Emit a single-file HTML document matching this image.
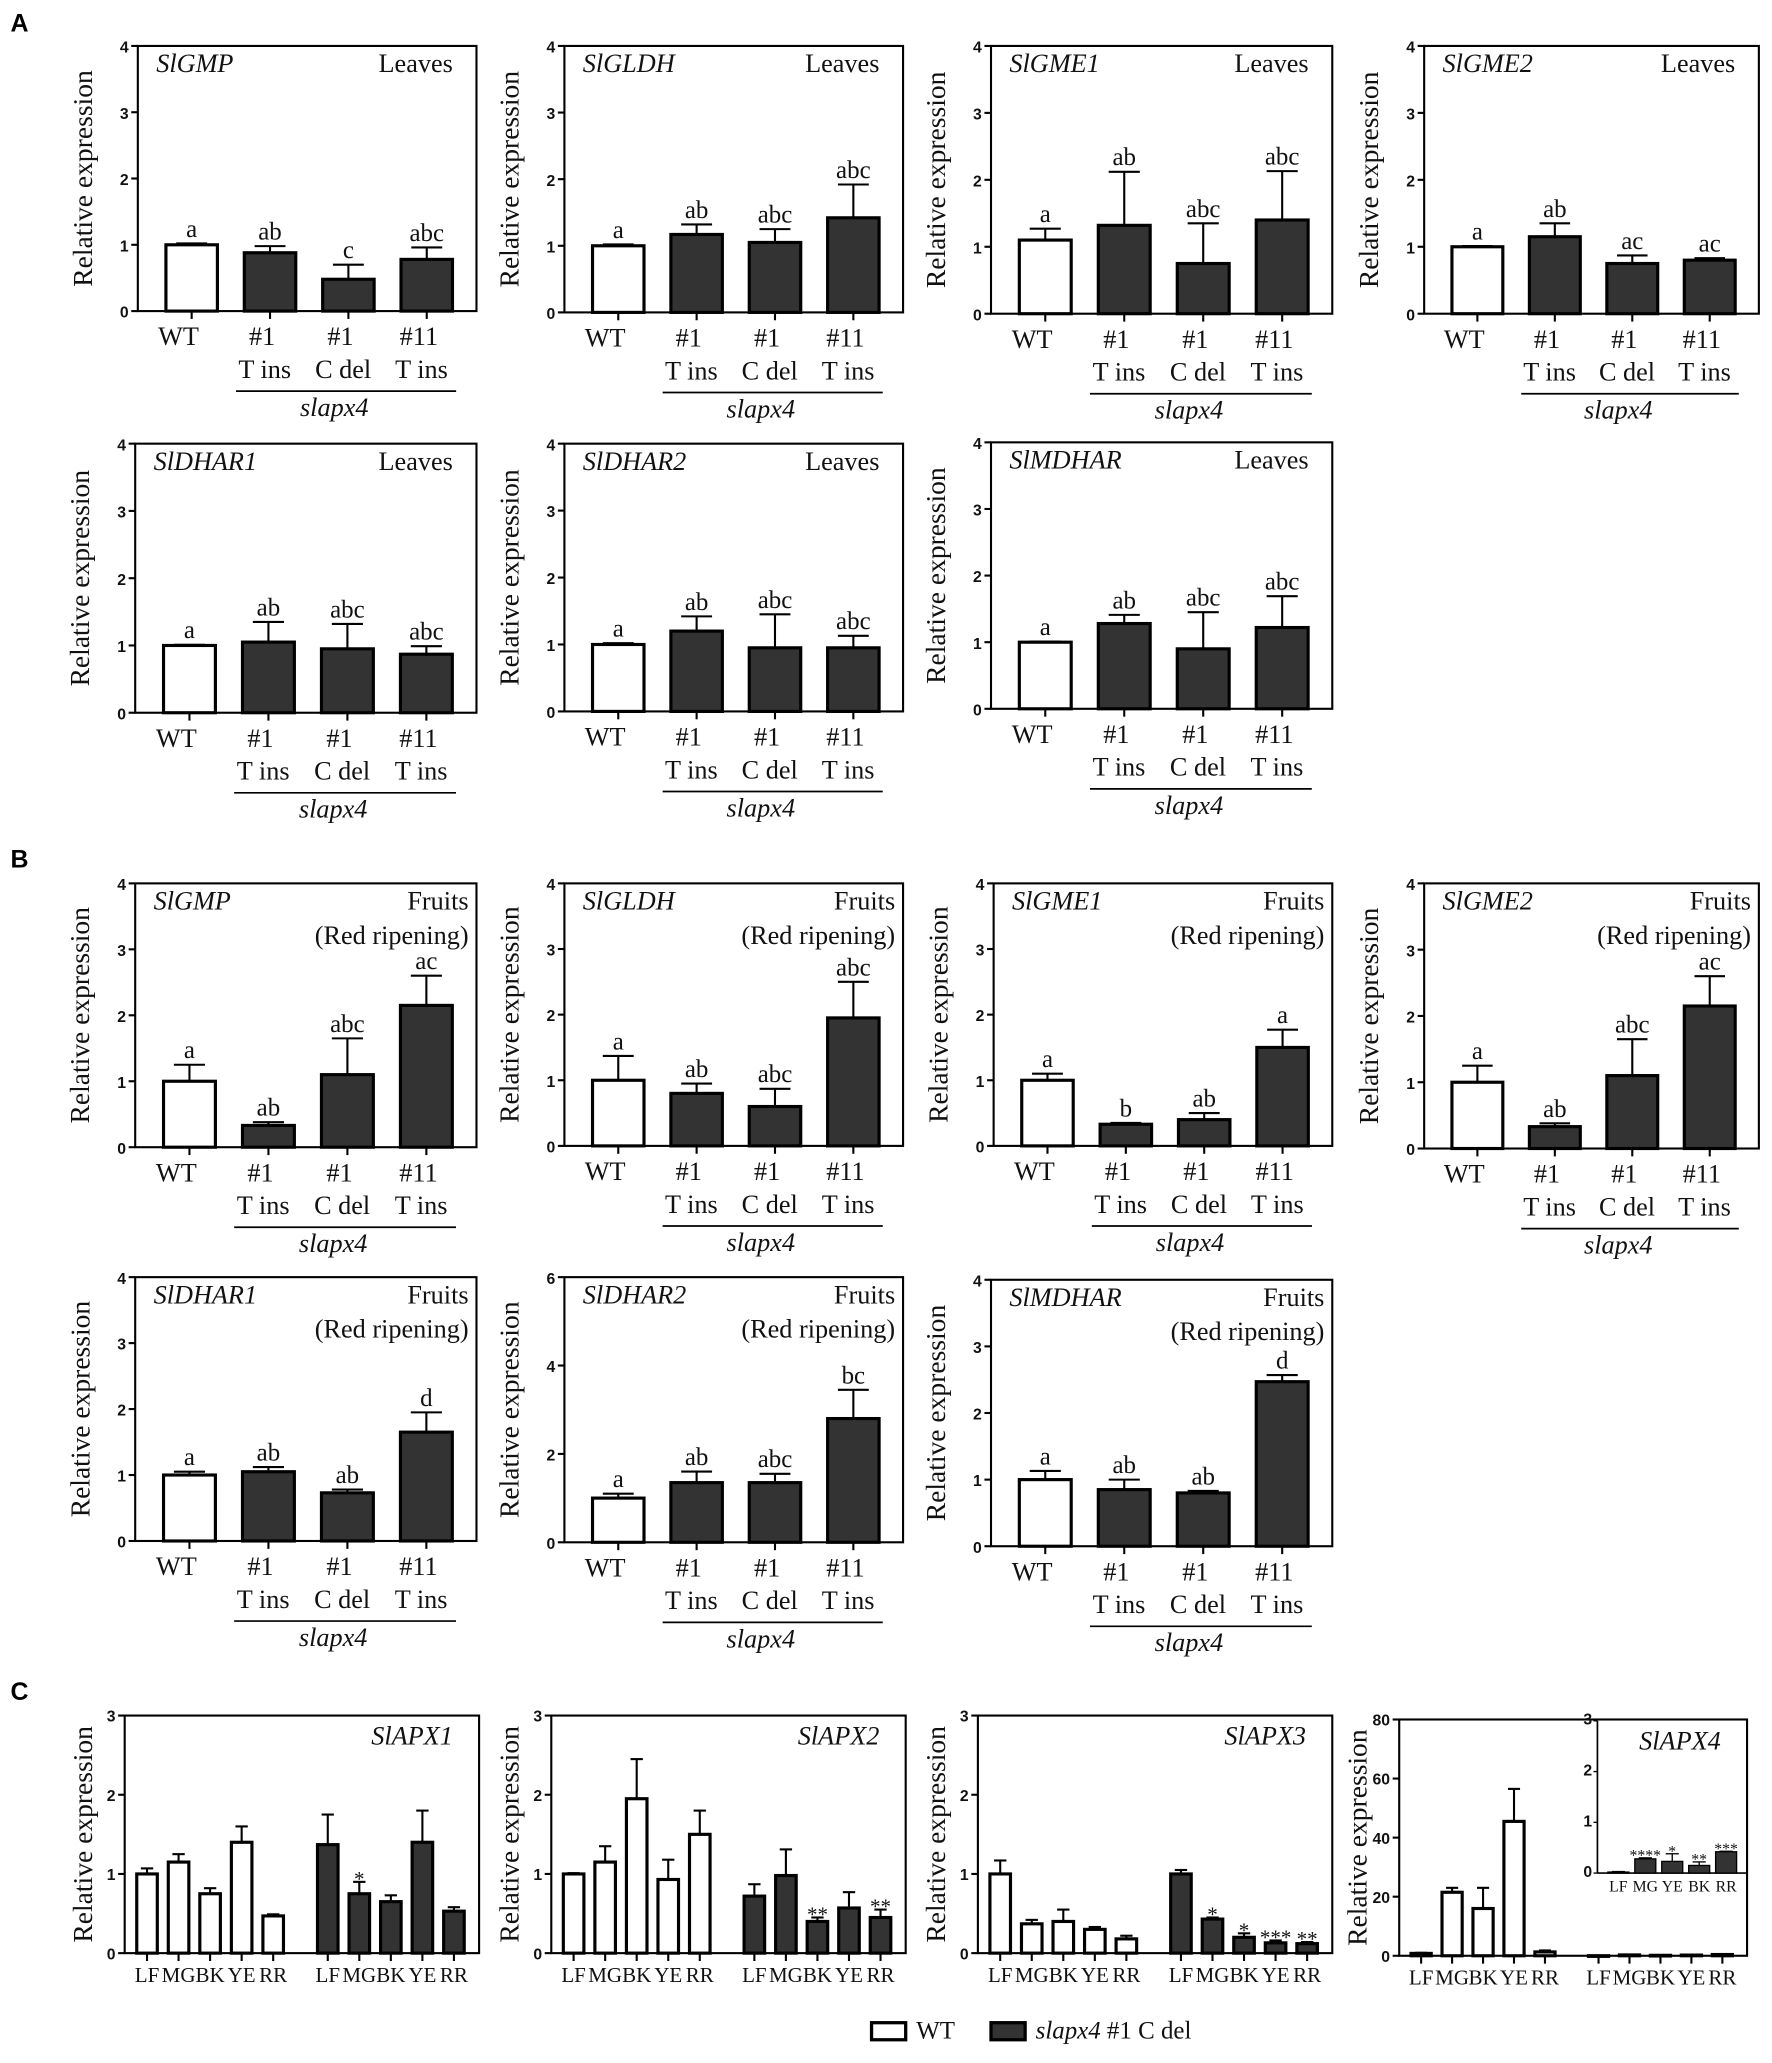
<!DOCTYPE html>
<html><head><meta charset="utf-8"><style>
html,body{margin:0;padding:0;background:#fff;}
svg{display:block;}
.tk{font-family:"Liberation Sans",sans-serif;font-weight:bold;font-size:12px;fill:#111;}
.sf{font-family:"Liberation Serif",serif;fill:#111;}
</style></head><body>
<svg id="fig" width="1772" height="2063" viewBox="0 0 1350 1571.7" xmlns="http://www.w3.org/2000/svg">
<rect width="1350" height="1572" fill="#fff"/>
<text x="8" y="24" font-family="Liberation Sans,sans-serif" font-weight="bold" font-size="19">A</text>
<text x="8" y="661" font-family="Liberation Sans,sans-serif" font-weight="bold" font-size="19">B</text>
<text x="8" y="1295" font-family="Liberation Sans,sans-serif" font-weight="bold" font-size="19">C</text>
<g>
<rect x="664" y="1541" width="26" height="13" fill="#fff" stroke="#000" stroke-width="2.5"/>
<text x="698" y="1553" class="sf" font-size="19">WT</text>
<rect x="755" y="1541" width="26" height="13" fill="#333" stroke="#000" stroke-width="2.5"/>
<text x="789" y="1553" class="sf" font-size="19"><tspan font-style="italic">slapx4</tspan> #1 C del</text>
</g>
</svg>
<script>
// ---- data: genotype panels (WT, #1 T ins, #1 C del, #11 T ins) ----
const genotypes = ["WT", "#1", "#1", "#11"];
const genotypeSub = ["", "T ins", "C del", "T ins"];
const gmpLeafMean = [1.0, 0.88, 0.48, 0.78];
const gmpLeafErr = [0.02, 0.1, 0.22, 0.18];
const gmpLeafLet = ["a", "ab", "c", "abc"];
const gldhLeafMean = [1.0, 1.17, 1.05, 1.42];
const gldhLeafErr = [0.02, 0.15, 0.2, 0.5];
const gldhLeafLet = ["a", "ab", "abc", "abc"];
const gme1LeafMean = [1.1, 1.32, 0.75, 1.4];
const gme1LeafErr = [0.17, 0.8, 0.6, 0.73];
const gme1LeafLet = ["a", "ab", "abc", "abc"];
const gme2LeafMean = [1.0, 1.15, 0.75, 0.8];
const gme2LeafErr = [0.01, 0.2, 0.12, 0.03];
const gme2LeafLet = ["a", "ab", "ac", "ac"];
const dhar1LeafMean = [1.0, 1.05, 0.95, 0.87];
const dhar1LeafErr = [0.01, 0.3, 0.37, 0.12];
const dhar1LeafLet = ["a", "ab", "abc", "abc"];
const dhar2LeafMean = [1.0, 1.2, 0.95, 0.95];
const dhar2LeafErr = [0.02, 0.22, 0.5, 0.18];
const dhar2LeafLet = ["a", "ab", "abc", "abc"];
const mdharLeafMean = [1.0, 1.28, 0.9, 1.22];
const mdharLeafErr = [0.01, 0.13, 0.55, 0.47];
const mdharLeafLet = ["a", "ab", "abc", "abc"];
const gmpFruitMean = [1.0, 0.33, 1.1, 2.15];
const gmpFruitErr = [0.25, 0.05, 0.55, 0.45];
const gmpFruitLet = ["a", "ab", "abc", "ac"];
const gldhFruitMean = [1.0, 0.8, 0.6, 1.95];
const gldhFruitErr = [0.37, 0.15, 0.27, 0.55];
const gldhFruitLet = ["a", "ab", "abc", "abc"];
const gme1FruitMean = [1.0, 0.33, 0.4, 1.5];
const gme1FruitErr = [0.1, 0.02, 0.1, 0.27];
const gme1FruitLet = ["a", "b", "ab", "a"];
const gme2FruitMean = [1.0, 0.33, 1.1, 2.15];
const gme2FruitErr = [0.25, 0.05, 0.55, 0.45];
const gme2FruitLet = ["a", "ab", "abc", "ac"];
const dhar1FruitMean = [1.0, 1.05, 0.73, 1.65];
const dhar1FruitErr = [0.05, 0.07, 0.05, 0.3];
const dhar1FruitLet = ["a", "ab", "ab", "d"];
const dhar2FruitMean = [1.0, 1.35, 1.35, 2.8];
const dhar2FruitErr = [0.1, 0.25, 0.2, 0.65];
const dhar2FruitLet = ["a", "ab", "abc", "bc"];
const mdharFruitMean = [1.0, 0.85, 0.8, 2.47];
const mdharFruitErr = [0.13, 0.15, 0.03, 0.1];
const mdharFruitLet = ["a", "ab", "ab", "d"];
const ticks4 = [0, 1, 2, 3, 4];
const ticks6 = [0, 2, 4, 6];
// ---- data: APX stage panels ----
const stages = ["LF", "MG", "BK", "YE", "RR"];
const apx1WT = [1.0, 1.15, 0.75, 1.4, 0.47];
const apx1WTErr = [0.07, 0.1, 0.07, 0.2, 0.02];
const apx1Mut = [1.37, 0.75, 0.65, 1.4, 0.53];
const apx1MutErr = [0.38, 0.15, 0.08, 0.4, 0.05];
const apx1Sig = ["", "*", "", "", ""];
const apx2WT = [1.0, 1.15, 1.95, 0.93, 1.5];
const apx2WTErr = [0.01, 0.2, 0.5, 0.25, 0.3];
const apx2Mut = [0.72, 0.98, 0.4, 0.57, 0.45];
const apx2MutErr = [0.15, 0.33, 0.05, 0.2, 0.1];
const apx2Sig = ["", "", "**", "", "**"];
const apx3WT = [1.0, 0.37, 0.4, 0.3, 0.18];
const apx3WTErr = [0.17, 0.05, 0.15, 0.03, 0.04];
const apx3Mut = [1.0, 0.43, 0.2, 0.13, 0.12];
const apx3MutErr = [0.05, 0.02, 0.05, 0.03, 0.02];
const apx3Sig = ["", "*", "*", "***", "**"];
const apx4WT = [0.8, 21.5, 16, 45.5, 1.3];
const apx4WTErr = [0.2, 1.5, 7, 11, 0.5];
const apx4Mut = [0.02, 0.28, 0.15, 0.23, 0.42];
const apx4MutErr = [0.01, 0.02, 0.07, 0.15, 0.01];
const apx4InsetStages = ["LF", "MG", "YE", "BK", "RR"];
const apx4InsetVals = [0.02, 0.28, 0.23, 0.15, 0.42];
const apx4InsetErr = [0.01, 0.02, 0.15, 0.07, 0.01];
const apx4InsetSig = ["", "****", "*", "**", "***"];
const ticks3 = [0, 1, 2, 3];
const ticks80 = [0, 20, 40, 60, 80];

const NS = "http://www.w3.org/2000/svg";
const svg = document.getElementById("fig");
function mk(tag, attrs, parent, txt) {
  const e = document.createElementNS(NS, tag);
  for (const k in attrs) e.setAttribute(k, attrs[k]);
  if (txt !== undefined) e.textContent = txt;
  (parent || svg).appendChild(e);
  return e;
}

function frame(g, x0, x1, yTop, yBot, max, ticks, fs, titleOff) {
  mk("rect", {x: x0, y: yTop, width: x1 - x0, height: yBot - yTop, fill: "none", stroke: "#000", "stroke-width": 1.6}, g);
  ticks.forEach(t => {
    const y = yBot - t / max * (yBot - yTop);
    mk("line", {x1: x0 - 5, x2: x0, y1: y, y2: y, stroke: "#000", "stroke-width": 1.6}, g);
    const tl = mk("text", {x: x0 - 7, y: y + fs * 0.36, "text-anchor": "end", class: "tk", "font-size": fs}, g, t);
    
    
  });
  if (titleOff) {
    const cy = (yTop + yBot) / 2, cx = x0 - titleOff;
    const tt = mk("text", {x: cx, y: cy, "text-anchor": "middle", class: "sf", "font-size": 21, transform: `rotate(-90 ${cx} ${cy})`, dy: 7}, g, "Relative expression");
    
    
  }
}

function bar(g, cx, w, yBot, ySc, v, e, dark) {
  const yv = ySc(v);
  const ye = ySc(v + e);
  mk("line", {x1: cx, x2: cx, y1: yv, y2: ye, stroke: "#000", "stroke-width": 1.6}, g);
  mk("line", {x1: cx - w * 0.3, x2: cx + w * 0.3, y1: ye, y2: ye, stroke: "#000", "stroke-width": 1.6}, g);
  const r = mk("rect", {x: cx - w / 2, y: yv, width: w, height: Math.max(yBot - yv, 0.5), fill: dark ? "#333" : "#fff", stroke: "#000", "stroke-width": 2.4}, g);
  
  
  mk("line", {x1: cx, x2: cx, y1: yBot, y2: yBot + 6, stroke: "#000", "stroke-width": 1.6}, g);
  return ye;
}

function genoPanel(p) {
  const g = mk("g", {});
  
  
  const {x0, x1, yTop, yBot, max} = p;
  const W = x1 - x0;
  const ySc = v => yBot - v / max * (yBot - yTop);
  const xC = i => x0 + W * (0.159 + 0.2314 * i);
  const bw = W * 0.152;
  frame(g, x0, x1, yTop, yBot, max, p.ticks, 14, 42);
  p.mean.forEach((m, i) => {
    const ye = bar(g, xC(i), bw, yBot, ySc, m, p.err[i], i > 0);
    const l = mk("text", {x: xC(i), y: ye - 5, "text-anchor": "middle", class: "sf", "font-size": 19}, g, p.lets[i]);
    
    
    const a = mk("text", {x: xC(i) - (i === 0 ? 10 : 6), y: yBot + 26, "text-anchor": "middle", class: "sf", "font-size": 20}, g, genotypes[i]);
    
    
    if (genotypeSub[i]) {
      const b = mk("text", {x: xC(i) - 4, y: yBot + 51, "text-anchor": "middle", class: "sf", "font-size": 20}, g, genotypeSub[i]);
      
      
    }
  });
  mk("line", {x1: x0 + W * 0.29, x2: x0 + W * 0.94, y1: yBot + 61, y2: yBot + 61, stroke: "#000", "stroke-width": 1.3}, g);
  const s = mk("text", {x: x0 + W * 0.58, y: yBot + 80, "text-anchor": "middle", class: "sf", "font-size": 20, "font-style": "italic"}, g, "slapx4");
  
  
  const gn = mk("text", {x: x0 + 14, y: yTop + 20, class: "sf", "font-size": 20, "font-style": "italic"}, g, p.gene);
  
  
  if (p.fruit) {
    const t1 = mk("text", {x: x1 - 6, y: yTop + 20, "text-anchor": "end", class: "sf", "font-size": 20}, g, "Fruits");
    
    
    const t2 = mk("text", {x: x1 - 6, y: yTop + 46, "text-anchor": "end", class: "sf", "font-size": 20}, g, "(Red ripening)");
    
    
  } else {
    const t1 = mk("text", {x: x1 - 18, y: yTop + 20, "text-anchor": "end", class: "sf", "font-size": 20}, g, "Leaves");
    
    
  }
}

const panels = [
  {name: "chart-slgmp-leaves", gene: "SlGMP", x0: 105, x1: 363, yTop: 35, yBot: 237, max: 4, ticks: ticks4, mean: gmpLeafMean, err: gmpLeafErr, lets: gmpLeafLet},
  {name: "chart-slgldh-leaves", gene: "SlGLDH", x0: 430, x1: 688, yTop: 35, yBot: 238, max: 4, ticks: ticks4, mean: gldhLeafMean, err: gldhLeafErr, lets: gldhLeafLet},
  {name: "chart-slgme1-leaves", gene: "SlGME1", x0: 755, x1: 1015, yTop: 35, yBot: 239, max: 4, ticks: ticks4, mean: gme1LeafMean, err: gme1LeafErr, lets: gme1LeafLet},
  {name: "chart-slgme2-leaves", gene: "SlGME2", x0: 1085, x1: 1340, yTop: 35, yBot: 239, max: 4, ticks: ticks4, mean: gme2LeafMean, err: gme2LeafErr, lets: gme2LeafLet},
  {name: "chart-sldhar1-leaves", gene: "SlDHAR1", x0: 103, x1: 363, yTop: 338, yBot: 543, max: 4, ticks: ticks4, mean: dhar1LeafMean, err: dhar1LeafErr, lets: dhar1LeafLet},
  {name: "chart-sldhar2-leaves", gene: "SlDHAR2", x0: 430, x1: 688, yTop: 338, yBot: 542, max: 4, ticks: ticks4, mean: dhar2LeafMean, err: dhar2LeafErr, lets: dhar2LeafLet},
  {name: "chart-slmdhar-leaves", gene: "SlMDHAR", x0: 755, x1: 1015, yTop: 337, yBot: 540, max: 4, ticks: ticks4, mean: mdharLeafMean, err: mdharLeafErr, lets: mdharLeafLet},
  {name: "chart-slgmp-fruits", gene: "SlGMP", fruit: true, x0: 103, x1: 363, yTop: 673, yBot: 874, max: 4, ticks: ticks4, mean: gmpFruitMean, err: gmpFruitErr, lets: gmpFruitLet},
  {name: "chart-slgldh-fruits", gene: "SlGLDH", fruit: true, x0: 430, x1: 688, yTop: 673, yBot: 873, max: 4, ticks: ticks4, mean: gldhFruitMean, err: gldhFruitErr, lets: gldhFruitLet},
  {name: "chart-slgme1-fruits", gene: "SlGME1", fruit: true, x0: 757, x1: 1015, yTop: 673, yBot: 873, max: 4, ticks: ticks4, mean: gme1FruitMean, err: gme1FruitErr, lets: gme1FruitLet},
  {name: "chart-slgme2-fruits", gene: "SlGME2", fruit: true, x0: 1085, x1: 1340, yTop: 673, yBot: 875, max: 4, ticks: ticks4, mean: gme2FruitMean, err: gme2FruitErr, lets: gme2FruitLet},
  {name: "chart-sldhar1-fruits", gene: "SlDHAR1", fruit: true, x0: 103, x1: 363, yTop: 973, yBot: 1174, max: 4, ticks: ticks4, mean: dhar1FruitMean, err: dhar1FruitErr, lets: dhar1FruitLet},
  {name: "chart-sldhar2-fruits", gene: "SlDHAR2", fruit: true, x0: 430, x1: 688, yTop: 973, yBot: 1175, max: 6, ticks: ticks6, mean: dhar2FruitMean, err: dhar2FruitErr, lets: dhar2FruitLet},
  {name: "chart-slmdhar-fruits", gene: "SlMDHAR", fruit: true, x0: 755, x1: 1015, yTop: 975, yBot: 1178, max: 4, ticks: ticks4, mean: mdharFruitMean, err: mdharFruitErr, lets: mdharFruitLet}
];
panels.forEach(genoPanel);

function stagePanel(p) {
  const g = mk("g", {});
  
  
  const {x0, x1, yTop, yBot, max} = p;
  const W = x1 - x0;
  const ySc = v => yBot - v / max * (yBot - yTop);
  const xW = i => x0 + W * (0.063 + 0.089 * i);
  const xM = i => x0 + W * (0.573 + 0.089 * i);
  const bw = W * 0.058;
  frame(g, x0, x1, yTop, yBot, max, p.ticks, 13, 32);
  p.wt.forEach((v, i) => {
    bar(g, xW(i), bw, yBot, ySc, v, p.wtErr[i], false);
    const a = mk("text", {x: xW(i), y: yBot + 22, "text-anchor": "middle", class: "sf", "font-size": 16}, g, stages[i]);
    
    
  });
  p.mut.forEach((v, i) => {
    const ye = bar(g, xM(i), bw, yBot, ySc, v, p.mutErr[i], true);
    if (p.sig[i]) {
      const s = mk("text", {x: xM(i), y: ye + 3, "text-anchor": "middle", class: "sf", "font-size": 16, fill: "#333"}, g, p.sig[i]);
      
      
    }
    const a = mk("text", {x: xM(i), y: yBot + 22, "text-anchor": "middle", class: "sf", "font-size": 16}, g, stages[i]);
    
    
  });
  if (p.gene) {
    const gn = mk("text", {x: x1 - 20, y: yTop + 22, "text-anchor": "end", class: "sf", "font-size": 20, "font-style": "italic"}, g, p.gene);
    
    
  }
  return g;
}
stagePanel({name: "chart-slapx1", gene: "SlAPX1", x0: 95, x1: 365, yTop: 1307, yBot: 1488, max: 3, ticks: ticks3, wt: apx1WT, wtErr: apx1WTErr, mut: apx1Mut, mutErr: apx1MutErr, sig: apx1Sig});
stagePanel({name: "chart-slapx2", gene: "SlAPX2", x0: 420, x1: 690, yTop: 1307, yBot: 1488, max: 3, ticks: ticks3, wt: apx2WT, wtErr: apx2WTErr, mut: apx2Mut, mutErr: apx2MutErr, sig: apx2Sig});
stagePanel({name: "chart-slapx3", gene: "SlAPX3", x0: 745, x1: 1015, yTop: 1307, yBot: 1488, max: 3, ticks: ticks3, wt: apx3WT, wtErr: apx3WTErr, mut: apx3Mut, mutErr: apx3MutErr, sig: apx3Sig});
stagePanel({name: "chart-slapx4", gene: "", x0: 1066, x1: 1331, yTop: 1310, yBot: 1490, max: 80, ticks: ticks80, wt: apx4WT, wtErr: apx4WTErr, mut: apx4Mut, mutErr: apx4MutErr, sig: ["", "", "", "", ""]});

// inset
(function () {
  const g = mk("g", {});
  
  
  const x0 = 1217, x1 = 1331, yTop = 1311, yBot = 1427, max = 3;
  const ySc = v => yBot - v / max * (yBot - yTop);
  const W = x1 - x0;
  const xC = i => x0 + W * (0.14 + 0.18 * i);
  mk("line", {x1: x0, x2: x0, y1: yTop, y2: yBot, stroke: "#000", "stroke-width": 1.3}, g);
  mk("line", {x1: x0, x2: x1, y1: yBot, y2: yBot, stroke: "#000", "stroke-width": 1.3}, g);
  ticks3.forEach(t => {
    const y = ySc(t);
    mk("line", {x1: x0 - 3, x2: x0, y1: y, y2: y, stroke: "#000", "stroke-width": 1}, g);
    const tl = mk("text", {x: x0 - 4, y: y + 3, "text-anchor": "end", class: "tk", "font-size": 8}, g, t);
    
    
  });
  apx4InsetVals.forEach((v, i) => {
    const cx = xC(i), yv = ySc(v), ye = ySc(v + apx4InsetErr[i]);
    mk("line", {x1: cx, x2: cx, y1: yv, y2: ye, stroke: "#000", "stroke-width": 1}, g);
    mk("line", {x1: cx - 5, x2: cx + 5, y1: ye, y2: ye, stroke: "#000", "stroke-width": 1}, g);
    const r = mk("rect", {x: cx - 8, y: yv, width: 16, height: yBot - yv, fill: "#333", stroke: "#000", "stroke-width": 1}, g);
    
    
    if (apx4InsetSig[i]) {
      const s = mk("text", {x: cx, y: ye + 2, "text-anchor": "middle", class: "sf", "font-size": 12, fill: "#444"}, g, apx4InsetSig[i]);
      
      
    }
    const a = mk("text", {x: cx, y: yBot + 14, "text-anchor": "middle", class: "sf", "font-size": 12}, g, apx4InsetStages[i]);
    
    
  });
  const gn = mk("text", {x: x1 - 20, y: yTop + 22, "text-anchor": "end", class: "sf", "font-size": 20, "font-style": "italic"}, g, "SlAPX4");
  
  
})();
</script>
</body></html>
